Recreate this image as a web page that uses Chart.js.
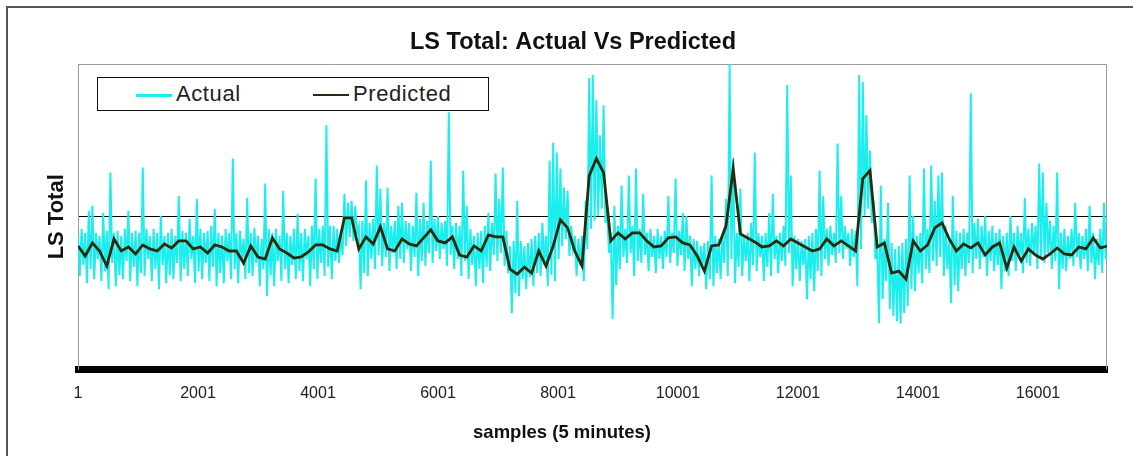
<!DOCTYPE html>
<html><head><meta charset="utf-8">
<script src="https://cdn.jsdelivr.net/npm/chart.js@4"></script>
<style>
html,body{margin:0;padding:0;background:#fff;overflow:hidden}
#wrap{position:relative;width:1133px;height:456px;overflow:hidden}
#frame{position:absolute;left:6px;top:6px;width:1200px;height:600px;border-left:2px solid #555;border-top:2px solid #555;pointer-events:none}
#legend{position:absolute;left:97px;top:77px;width:390px;height:32px;border:1.5px solid #111;background:#fff;font-family:'Liberation Sans',Arial,sans-serif;font-size:22px;letter-spacing:0.6px;color:#222}
.item{position:absolute;top:0;height:32px;line-height:32px;white-space:nowrap}
.sw{display:inline-block;width:36px;vertical-align:middle;margin-right:4px}
#xtitle{position:absolute;left:0;width:1124px;top:421px;line-height:22px;text-align:center;font-family:'Liberation Sans',Arial,sans-serif;font-weight:bold;font-size:18.5px;color:#111}
canvas{position:absolute;left:0;top:0}
</style></head>
<body>
<div id="wrap">
<canvas id="c" width="1133" height="456"></canvas>
<div id="frame"></div>
<div id="legend"></div>
<div id="xtitle"></div>
</div>
<script>
const FONT = "'Liberation Sans', Arial, sans-serif";
const FIRST_SAMPLE = 1;
const LAST_SAMPLE = 17151;
const ACTUAL_STEP = 60;        // one peak and one trough of Actual per 60 samples
const TROUGH_OFFSET = 30;      // trough read half-way between two peaks
const PREDICTED_STEP = 120;
const REFERENCE_LEVEL = 76;
const chartTitle = 'LS Total: Actual Vs Predicted';
const xAxisTitle = 'samples (5 minutes)';
const yAxisTitle = 'LS Total';
const seriesLabels = ['Actual', 'Predicted'];
const seriesColors = ['#1ceeee', '#2a2a0c'];
const xTickValues = [1, 2001, 4001, 6001, 8001, 10001, 12001, 14001, 16001];

// Actual: local peaks of the noisy trace (spikes included)
const actualPeaks = [66.5,70,68,79,81.5,68,66.5,78,69,98, 68,69,66.5,70,79,68,69,68,100.5,70, 66.5,70,68,76.5,66.5,68,70,66.5,86.5,69, 68,75,66.5,85,70,68,
 69,71.5,80,68, 66.5,70,68,105,68,69,65,85.5,68,70.5, 66.5,65,92.5,70,68,70,66.5,89,68,66.5, 70,77.5,68,70,66.5,71.5,95,70,71.5,121.5, 71.5,
 71.5,70,66.5,87.5,83,84,81.5,71.5,74, 94,73,75,101.5,90,73,90.5,71.5,74,81.5, 83,74,73,71.5,88,75,83,74,104,75, 76.5,73,74,128,71.5,73,
 71.5,99,81.5,70, 66.5,68,69,71.5,78,73,97.5,85,100.5,69, 61.5,64,84,64,61.5,63,65,66.5,68,73, 66.5,104,113,108,100,90.5,89,71.5,66.5,65, 66.5,
 84,145,146.5,134,116.5,131.5,79,68,81.5, 71.5,91.5,70,96.5,71.5,100,70,87.5,68,70, 66.5,70,66.5,69,86.5,68,95,69,78,76.5, 66.5,65,64,61.5,63,64,
 96.5,66.5,65,66.5, 85,152,105,68,90,66.5,68,73,108,68, 66.5,68,78,87.5,66.5,68,71.5,141.5,96.5,66.5, 65,64,65,66.5,68,70,99,86.5,70,71.5, 68,
 112.5,86.5,71.5,68,70,69,146.5,143,126.5, 109,84,61.5,91.5,65,83,63,60,61.5,63, 65,96.5,76.5,66.5,68,100,70,101.5,84,96.5, 98,71.5,65,86.5,69,68,
 70,68,137.5,73, 75,71.5,76.5,69,71.5,68,70,66.5,68,76.5, 68,71.5,68,85.5,70,73,71.5,102.5,98,83, 74,71.5,98,68,70,66.5,70,83,68,66.5, 70,81.5,68,65,70,83];

// Actual: local troughs of the noisy trace (dips included)
const actualTroughs = [46.5,52, 43,50, 45,55, 44,49, 40,53, 41.5,47, 45,54, 44,51, 41.5,48, 46.5,55,
 44,50, 40,52, 43,47, 45,53, 44,50, 46.5,55, 43,49, 45,53, 44,51, 41.5,48,
 43,54, 45,50, 43,55, 45,48, 46.5,53, 41.5,50, 36.5,47, 41.5,54, 44,50, 43,52,
 45,49, 44,55, 41.5,50, 45,53, 46.5,51, 45,54, 53,57, 61.5,66, 64,68, 40,48,
 46.5,55, 50,57, 51.5,56, 49,58, 50,55, 53,60, 49,56, 46.5,54, 51.5,58, 53,59,
 55,60, 51.5,57, 50,55, 46.5,54, 45,52, 41.5,50, 43,51, 49,57, 54,58, 51.5,48,
 28,38, 36.5,45, 40,46, 41.5,48, 46.5,52, 41.5,47, 44,55, 61.5,65, 56.5,60, 46.5,52,
 44,60, 70,74, 76.5,80, 73,58, 25,42, 50,56, 53,58, 46.5,54, 53,57, 49,56,
 48,55, 50,56, 53,58, 51.5,57, 49,55, 41.5,50, 46.5,52, 40,45, 41.5,48, 45,53,
 46.5,55, 43,51, 46.5,54, 44,52, 49,56, 44,51, 46.5,55, 48,54, 51.5,58, 41.5,50,
 44,52, 35,45, 39,49, 46.5,55, 51.5,57, 53,58, 55,60, 51.5,56, 41.5,60, 76.5,80,
 73,55, 23,35, 44,30, 26.5,24, 23,28, 31.5,40, 39,48, 43,50, 48,54, 51.5,56,
 46.5,50, 33,42, 39,50, 46.5,53, 48,55, 50,56, 46.5,54, 49,52, 40,49, 46.5,54,
 49,55, 48,53, 51.5,57, 50,55, 53,58, 50,54, 40,50, 49,55, 51.5,56, 50,55,
 49,53, 45,52, 48,55];

const predictedValues = [61.5,56.5,63,59,51.5,65,59,61,57.5,62, 60,59,62.5,60.5,64,64,60,61,58,62, 61,59,59,53,61.5,56,55,65.5,60,58,
 55.5,56,58.5,62,62,60,59,75.5,75.5,60, 66,62.5,71,60,59,65,62.5,61.5,65.5,69.5, 64,63,66,57,56,61.5,59,67,66,66,
 50,47.5,51,48,59,51.5,61.5,74.5,70.5,59, 51.5,96.5,105,98,64,68,65,68,68,64, 61,61.5,65.5,66,63,62,56.5,49,61.5,62,
 71.5,100,67.5,65.5,63.5,61,61.5,64,61.5,65, 63,61,59,60,65,61.5,64,61.5,59,95, 99,61,63,48,49,45,64,59,62,70.5,
 73,65,59,62.5,60.5,63,57,61,63,50.5, 61,54,60,57,55,57.5,60.5,57.5,57,61, 60,65.5,60.5,61.5];

// Actual trace in time order: peak, trough, peak, trough, ...
const actualPoints = [];
actualPeaks.forEach((p, i) => {
  actualPoints.push({x: FIRST_SAMPLE + i * ACTUAL_STEP, y: p});
  if (i < actualTroughs.length) actualPoints.push({x: FIRST_SAMPLE + i * ACTUAL_STEP + TROUGH_OFFSET, y: actualTroughs[i]});
});
const predictedPoints = predictedValues.map((v, i) => ({x: FIRST_SAMPLE + i * PREDICTED_STEP, y: v}));

const plotFrame = {
  id: 'plotFrame',
  beforeDatasetsDraw(chart) {
    const {ctx, chartArea: a} = chart;
    ctx.save();
    ctx.strokeStyle = '#9a9a9a';
    ctx.lineWidth = 1;
    ctx.beginPath();
    ctx.moveTo(Math.round(a.left) + 0.5, a.bottom);
    ctx.lineTo(Math.round(a.left) + 0.5, Math.round(a.top) + 0.5);
    ctx.lineTo(Math.round(a.right) - 0.5, Math.round(a.top) + 0.5);
    ctx.lineTo(Math.round(a.right) - 0.5, a.bottom);
    ctx.stroke();
    ctx.restore();
  }
};

const chart = new Chart(document.getElementById('c'), {
  type: 'line',
  data: {
    datasets: [
      {label: seriesLabels[0], data: actualPoints, borderColor: seriesColors[0], borderWidth: 2, pointRadius: 0, tension: 0, fill: false, order: 1},
      {label: seriesLabels[1], data: predictedPoints, borderColor: seriesColors[1], borderWidth: 2.8, pointRadius: 0, tension: 0, fill: false, order: 0}
    ]
  },
  options: {
    responsive: false,
    animation: false,
    events: [],
    layout: {padding: {left: 39, right: 26, top: 0, bottom: 38.4}},
    plugins: {
      legend: {display: false},
      tooltip: {enabled: false},
      title: {display: true, text: chartTitle, color: '#111',
        font: {family: FONT, size: 23.5, weight: 'bold', lineHeight: 1.2}, padding: {top: 28.5, bottom: 7.3}}
    },
    scales: {
      x: {
        type: 'linear', min: FIRST_SAMPLE, max: LAST_SAMPLE,
        grid: {display: false, drawTicks: false},
        border: {display: true, color: '#000', width: 7},
        afterBuildTicks: s => { s.ticks = xTickValues.map(v => ({value: v})); },
        ticks: {autoSkip: false, maxRotation: 0, padding: 14.4, color: '#222', font: {family: FONT, size: 16}, callback: v => String(v)},
        title: {display: false}
      },
      y: {
        min: 0, max: 152,
        grid: {display: true, drawTicks: false, color: '#000', lineWidth: 1},
        border: {display: true, color: '#9a9a9a', width: 1},
        afterBuildTicks: s => { s.ticks = [{value: REFERENCE_LEVEL}]; },
        ticks: {display: false},
        title: {display: true, text: yAxisTitle, color: '#111', font: {family: FONT, size: 22, weight: 'bold', lineHeight: 1.2}, padding: {top: 4.8, bottom: 7.8}}
      }
    }
  },
  plugins: [plotFrame]
});

document.getElementById('xtitle').textContent = xAxisTitle;

// legend box built from the chart's datasets
const legendItemOffsets = [38, 215];
const legendEl = document.getElementById('legend');
chart.data.datasets.forEach((ds, k) => {
  const item = document.createElement('div');
  item.className = 'item';
  item.style.left = legendItemOffsets[k] + 'px';
  const sw = document.createElement('span');
  sw.className = 'sw';
  sw.style.borderTop = (k === 0 ? 3 : 2) + 'px solid ' + ds.borderColor;
  item.appendChild(sw);
  item.appendChild(document.createTextNode(ds.label));
  legendEl.appendChild(item);
});
</script>
</body></html>
